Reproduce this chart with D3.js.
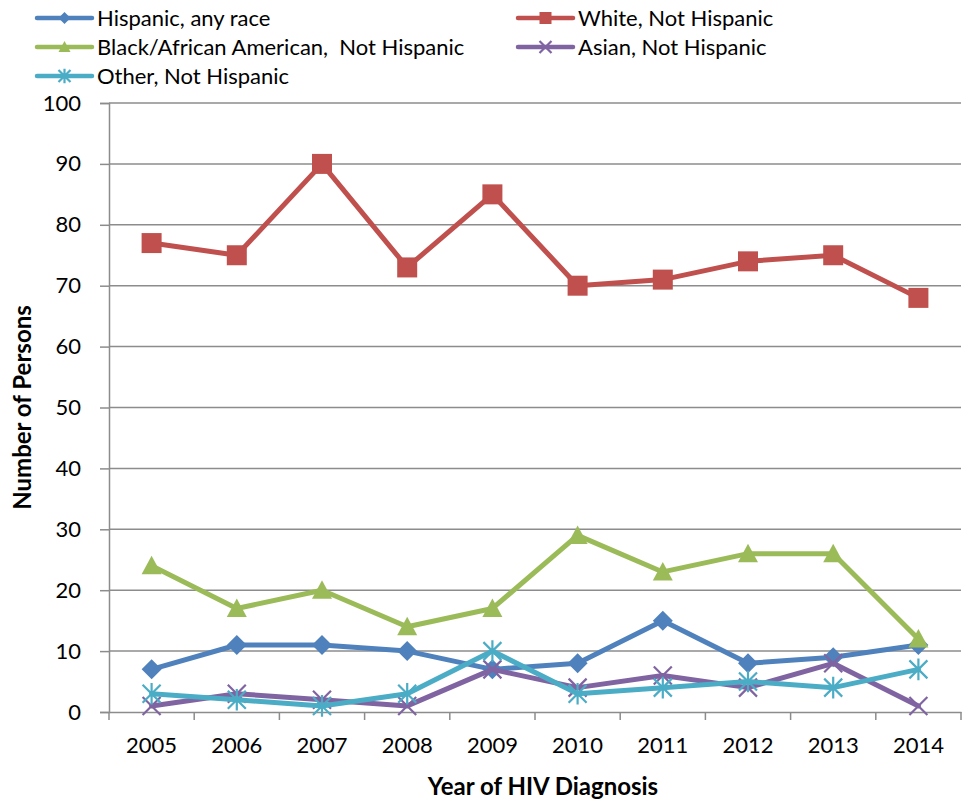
<!DOCTYPE html>
<html>
<head>
<meta charset="utf-8">
<script src="https://cdn.jsdelivr.net/npm/d3@7"></script>
<style>
  html, body { margin: 0; padding: 0; background: #fff; }
  svg { display: block; font-family: Lato, "Open Sans", sans-serif; }
  text { white-space: pre; }
</style>
</head>
<body>
<svg id="chart" width="967" height="802"></svg>
<script>
// Years of diagnosis (x categories)
const years = ["2005", "2006", "2007", "2008", "2009", "2010", "2011", "2012", "2013", "2014"];

// Persons diagnosed, by race/ethnicity
const hispanic = [7, 11, 11, 10, 7, 8, 15, 8, 9, 11];
const white    = [77, 75, 90, 73, 85, 70, 71, 74, 75, 68];
const black    = [24, 17, 20, 14, 17, 29, 23, 26, 26, 12];
const asian    = [1, 3, 2, 1, 7, 4, 6, 4, 8, 1];
const other    = [3, 2, 1, 3, 10, 3, 4, 5, 4, 7];

const seriesNames = [
  "Hispanic, any race",
  "White, Not Hispanic",
  "Black/African American,  Not Hispanic",
  "Asian, Not Hispanic",
  "Other, Not Hispanic"
];
const yTicks = [0, 10, 20, 30, 40, 50, 60, 70, 80, 90, 100];

const series = [
  { name: seriesNames[0], values: hispanic, color: "#4F81BD", marker: "diamond" },
  { name: seriesNames[1], values: white,    color: "#C0504D", marker: "square" },
  { name: seriesNames[2], values: black,    color: "#9BBB59", marker: "triangle" },
  { name: seriesNames[3], values: asian,    color: "#8064A2", marker: "x" },
  { name: seriesNames[4], values: other,    color: "#4BACC6", marker: "star" }
];

const svg = d3.select("#chart");
const plot = { left: 109, right: 961, top: 103, bottom: 712 };

const x = d3.scaleBand().domain(years).range([plot.left, plot.right]);
const y = d3.scaleLinear().domain([0, 100]).range([plot.bottom, plot.top]);
const cx = d => x(d) + x.bandwidth() / 2;

// Horizontal gridlines
svg.append("g")
  .selectAll("line")
  .data(yTicks.filter(t => t > 0))
  .join("line")
  .attr("x1", plot.left).attr("x2", plot.right)
  .attr("y1", d => y(d)).attr("y2", d => y(d))
  .attr("stroke", "#8c8c8c").attr("stroke-width", 1.5);

// Y axis
const yAxis = svg.append("g")
  .attr("transform", `translate(${plot.left},0)`)
  .call(d3.axisLeft(y).tickValues(yTicks).tickSize(9).tickPadding(19));
yAxis.select(".domain").attr("stroke", "#8c8c8c").attr("stroke-width", 1.5);
yAxis.selectAll(".tick line").attr("stroke", "#8c8c8c").attr("stroke-width", 1.5);
yAxis.selectAll(".tick text")
  .attr("font-family", "Lato, sans-serif")
  .attr("font-size", 22).attr("fill", "#000");

// X axis: ticks on category boundaries
const xAxis = svg.append("g")
  .attr("transform", `translate(0,${plot.bottom})`)
  .call(d3.axisBottom(x).tickSize(0).tickPadding(25));
xAxis.select(".domain").attr("stroke", "#8c8c8c").attr("stroke-width", 1.5);
xAxis.selectAll(".tick text")
  .attr("font-family", "Lato, sans-serif")
  .attr("font-size", 22).attr("fill", "#000");
xAxis.append("g")
  .selectAll("line")
  .data(years.map(d => x(d)).concat([plot.right]))
  .join("line")
  .attr("x1", d => d).attr("x2", d => d)
  .attr("y1", 0).attr("y2", 8)
  .attr("stroke", "#8c8c8c").attr("stroke-width", 1.5);

// Axis titles
svg.append("text")
  .attr("x", 543).attr("y", 795)
  .attr("text-anchor", "middle")
  .attr("font-size", 24).attr("font-weight", "bold")
  .text("Year of HIV Diagnosis");
svg.append("text")
  .attr("transform", `translate(31,${(plot.top + plot.bottom) / 2}) rotate(-90)`)
  .attr("text-anchor", "middle")
  .attr("font-size", 24).attr("font-weight", "bold")
  .text("Number of Persons");

// Marker drawing
function drawMarker(g, type, color, s) {
  const h = s / 2;
  if (type === "diamond") {
    g.append("path").attr("d", `M0,${-h}L${h},0L0,${h}L${-h},0Z`).attr("fill", color);
  } else if (type === "square") {
    g.append("rect").attr("x", -h).attr("y", -h).attr("width", s).attr("height", s).attr("fill", color);
  } else if (type === "triangle") {
    g.append("path").attr("d", `M0,${-h}L${h},${h * 0.85}L${-h},${h * 0.85}Z`).attr("fill", color);
  } else if (type === "x") {
    g.append("path").attr("d", `M${-h},${-h}L${h},${h}M${h},${-h}L${-h},${h}`)
      .attr("stroke", color).attr("stroke-width", 2.2);
  } else if (type === "star") {
    g.append("path").attr("d", `M${-h},${-h}L${h},${h}M${h},${-h}L${-h},${h}M0,${-h * 1.2}L0,${h * 1.2}`)
      .attr("stroke", color).attr("stroke-width", 2.2);
  }
}

const line = d3.line().x((d, i) => cx(years[i])).y(d => y(d));

// Series lines and markers
series.forEach(s => {
  const g = svg.append("g");
  g.append("path")
    .attr("d", line(s.values))
    .attr("fill", "none")
    .attr("stroke", s.color)
    .attr("stroke-width", 5)
    .attr("stroke-linejoin", "round")
    .attr("stroke-linecap", "round");
  s.values.forEach((v, i) => {
    const mg = g.append("g").attr("transform", `translate(${cx(years[i])},${y(v)})`);
    drawMarker(mg, s.marker, s.color, s.marker === "x" || s.marker === "star" ? 18 : 20);
  });
});

// Legend (two columns)
const legendPos = [
  [37, 18], [518, 18],
  [37, 47], [518, 47],
  [37, 76]
];
series.forEach((s, i) => {
  const [lx, ly] = legendPos[i];
  const g = svg.append("g").attr("transform", `translate(${lx},${ly})`);
  g.append("line")
    .attr("x1", 0).attr("x2", 55).attr("y1", 0).attr("y2", 0)
    .attr("stroke", s.color).attr("stroke-width", 4.5).attr("stroke-linecap", "round");
  drawMarker(g.append("g").attr("transform", "translate(27.5,0)"), s.marker, s.color, 12);
  g.append("text")
    .attr("x", 60).attr("y", 0).attr("dy", "0.35em")
    .attr("font-size", 22).attr("fill", "#000")
    .text(s.name);
});
</script>
</body>
</html>
